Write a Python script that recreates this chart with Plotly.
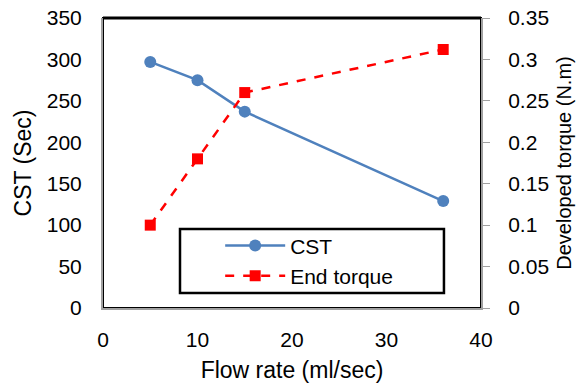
import plotly.graph_objects as go

flow = [5, 10, 15, 36]
cst = [297, 275, 237, 129]
torque = [0.10, 0.18, 0.26, 0.312]

font = "Liberation Sans, Arial, sans-serif"

fig = go.Figure()
fig.add_trace(go.Scatter(x=flow, y=cst, name="CST", mode="lines+markers",
                         line=dict(color="#4F81BD", width=2.5),
                         marker=dict(symbol="circle", size=12, color="#4F81BD")))
fig.add_trace(go.Scatter(x=flow, y=torque, name="End torque", mode="lines+markers",
                         yaxis="y2",
                         line=dict(color="#FF0000", width=2.5, dash="dash"),
                         marker=dict(symbol="square", size=11, color="#FF0000")))

fig.update_layout(
    width=580, height=383,
    margin=dict(l=103, r=99, t=18, b=75, autoexpand=False),
    paper_bgcolor="white", plot_bgcolor="white",
    font=dict(family=font, size=21, color="black"),
    showlegend=True,
    legend=dict(x=0.31, y=0.285, xanchor="left", yanchor="top",
                borderwidth=0, bgcolor="rgba(0,0,0,0)",
                font=dict(size=21), itemwidth=60,
                tracegroupgap=0),
    xaxis=dict(range=[0, 40], dtick=10, showgrid=False, zeroline=False,
               showline=True, linecolor="#A0A0A0", linewidth=2, automargin=False,
               ticks="", tickfont=dict(size=21), ticklabelstandoff=12,
               title=dict(text="Flow rate (ml/sec)", font=dict(size=23), standoff=15)),
    yaxis=dict(range=[0, 350], dtick=50, showgrid=False, zeroline=False,
               showline=True, linecolor="#A0A0A0", linewidth=2, automargin=False,
               ticks="", tickfont=dict(size=21), ticklabelstandoff=15,
               title=dict(text="CST (Sec)", font=dict(size=23), standoff=9)),
    yaxis2=dict(range=[0, 0.35], dtick=0.05, overlaying="y", side="right",
                showgrid=False, zeroline=False, automargin=False,
                showline=True, linecolor="#A0A0A0", linewidth=2,
                ticks="outside", ticklen=7, tickcolor="#A0A0A0", tickwidth=1,
                tickfont=dict(size=21), ticklabelstandoff=14,
                title=dict(text="Developed torque (N.m)", font=dict(size=20), standoff=9)),
    shapes=[
        dict(type="rect", xref="paper", yref="paper", x0=0, x1=1, y0=0, y1=1,
             line=dict(color="black", width=2), layer="below"),
        dict(type="line", xref="paper", yref="paper", x0=0, x1=1, y0=1, y1=1,
             line=dict(color="black", width=3)),
        dict(type="rect", xref="paper", yref="paper", x0=0.2037, x1=0.902,
             y0=0.0517, y1=0.272, line=dict(color="black", width=2.5),
             fillcolor="white", layer="below"),
    ],
)

fig.write_html("out.html")
